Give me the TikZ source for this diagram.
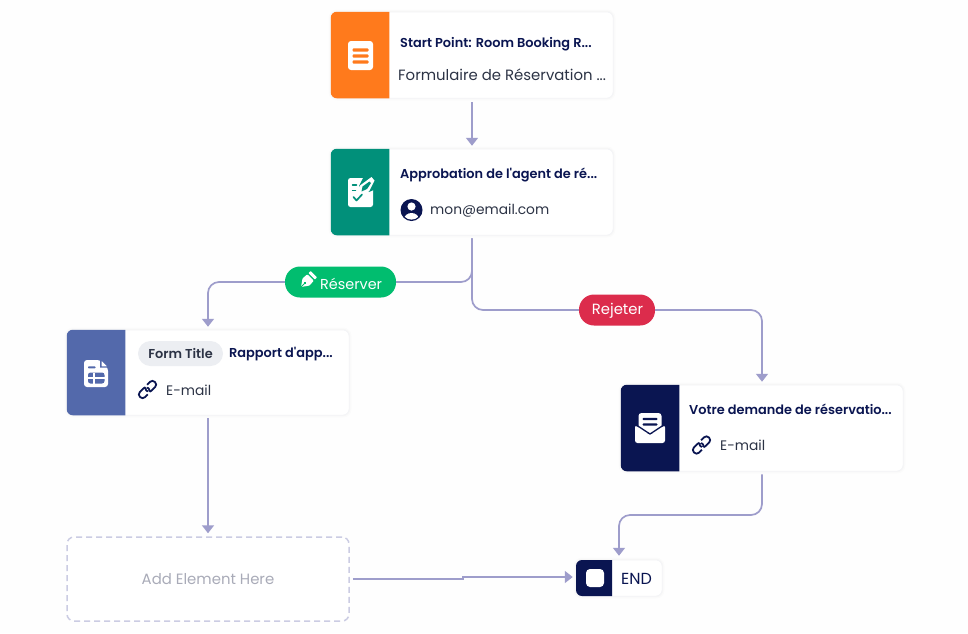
\documentclass[tikz,border=0pt]{standalone}
\usepackage{fontspec}
\defaultfontfeatures[\rmfamily]{}
\setmainfont[BoldFont={Poppins SemiBold}]{Poppins}
\usetikzlibrary{arrows.meta,calc}
\definecolor{cOrange}{HTML}{FF7A1C}
\definecolor{cTeal}{HTML}{01907A}
\definecolor{cBlue}{HTML}{5369AB}
\definecolor{cNavy}{HTML}{0A1551}
\definecolor{cPillG}{HTML}{01BD6F}
\definecolor{cPillR}{HTML}{DC2C4C}
\definecolor{cConn}{HTML}{9E9DCB}
\definecolor{cDash}{HTML}{CBCCE3}
\definecolor{cText}{HTML}{2C3345}
\definecolor{cGrey}{HTML}{A9ABB8}
\definecolor{cEdge}{HTML}{F1F2F6}
\definecolor{cTag}{HTML}{ECEEF2}
\definecolor{cPage}{HTML}{FEFEFE}
\tikzset{
  softcard/.style={rectangle,rounded corners=6pt,fill=white,draw=cEdge,line width=.5pt,inner sep=0pt,
    preaction={draw=black,draw opacity=.012,line width=5pt},
    preaction={draw=black,draw opacity=.016,line width=2.5pt}},
  wide/.style={softcard,minimum width=282pt,minimum height=86pt},
  conn/.style={draw=cConn,line width=1.7pt,rounded corners=11pt},
  tip/.style={-{Triangle[width=12pt,length=8pt]}},
  title/.style={anchor=west,inner sep=0pt,font=\bfseries\fontsize{12.9}{14}\selectfont,text=cNavy},
  body/.style={anchor=west,inner sep=0pt,font=\fontsize{13.8}{18}\selectfont,text=cText},
  pill/.style={rectangle,rounded corners=15pt,minimum height=31pt,inner sep=0pt,text=white},
  linkring/.style={draw=cNavy,line width=1.8pt,rounded corners=3.2pt}
}
\newcommand{\iconpanel}[2]{% node name, colour
  \fill[#2,rounded corners=6pt] ($(#1.north west)+(58.5pt,0)$) [sharp corners] -- ($(#1.north west)+(58.5pt,0)$) [rounded corners=6pt] -- (#1.north west) -- (#1.south west) [sharp corners] -- ($(#1.south west)+(58.5pt,0)$) -- cycle;
}
\newcommand{\linkicon}[2]{% x y
  \begin{scope}[shift={(#1,#2)},rotate=45]
    \draw[linkring] (-10.5pt,-3.6pt) rectangle (1.5pt,3.6pt);
    \draw[linkring] (-1.5pt,-3.6pt) rectangle (10.5pt,3.6pt);
    \fill[white] (-3pt,-5.4pt) rectangle (-.4pt,-2pt);
    \fill[white] (.4pt,2pt) rectangle (3pt,5.4pt);
  \end{scope}
}
\begin{document}
\begin{tikzpicture}[x=1pt,y=-1pt]
\useasboundingbox (0,0) rectangle (968,633);
\fill[cPage] (0,0) rectangle (968,633);

% cards
\node[wide] (start) at (472,55) {};
\node[wide] (appr)  at (472,192) {};
\node[wide,minimum height=85pt] (form) at (208,372.5) {};
\node[wide] (mail)  at (762,428) {};
\node[softcard,minimum width=86pt,minimum height=36pt] (endn) at (619,578) {};
\node[rectangle,rounded corners=7pt,draw=cDash,line width=1.5pt,dash pattern=on 6pt off 4pt,fill=white,
      minimum width=282pt,minimum height=84pt,text=cGrey,font=\fontsize{14.9}{18}\selectfont] (add) at (208,579) {Add Element Here};

\iconpanel{start}{cOrange}
\iconpanel{appr}{cTeal}
\iconpanel{form}{cBlue}
\iconpanel{mail}{cNavy}
\fill[cNavy,rounded corners=6pt] (612,560) [sharp corners] -- (612,560) [rounded corners=6pt] -- (576,560) -- (576,596) [sharp corners] -- (612,596) -- cycle;

% pills
\node[pill,fill=cPillG,minimum width=111pt] (res) at (340.5,282) {};
\node[pill,fill=cPillR,minimum width=76pt] (rej) at (617,310) {};
\node[inner sep=0pt,text=white,font=\fontsize{14.8}{18}\selectfont] (rejtext) at (617.5,311) {Rejeter};
\node[anchor=west,inner sep=0pt,text=white,font=\fontsize{14.4}{18}\selectfont] (restext) at (320,283.5) {Réserver};

% connectors
\coordinate (bendend) at (619,515);
\coordinate (kinkA) at (463,579);
\coordinate (kinkB) at (463,577);
\draw[conn,tip] ([yshift=-4pt]start.south) -- ([yshift=3pt]appr.north);
\draw[conn] ([yshift=-3pt]appr.south) |- (res.east);
\draw[conn,tip] (res.west) -| ([yshift=3pt]form.north);
\draw[conn] ([yshift=-3pt]appr.south) |- (rej.west);
\draw[conn,tip] (rej.east) -| ([yshift=3pt]mail.north);
\draw[conn,tip] ([yshift=-3pt]form.south) -- ([yshift=3pt]add.north);
\draw[conn,tip] ([yshift=-3pt]mail.south) |- (bendend) -- ([yshift=4pt]endn.north);
\draw[conn,rounded corners=0pt,tip] ([xshift=3pt]add.east) -- (kinkA) -- (kinkB) -- ([xshift=-3pt,yshift=1pt]endn.west);

% texts
\node[title] (t1) at (400,44) {Start Point: Room Booking R...};
\node[body,font=\fontsize{14.9}{18}\selectfont] (b1) at (398,74.5) {Formulaire de Réservation ...};
\node[title] (t2) at (400,175) {Approbation de l'agent de ré...};
\node[body] (b2) at (430,211) {mon@email.com};
\node[rectangle,rounded corners=12.5pt,fill=cTag,minimum width=85pt,minimum height=25pt,inner sep=0pt,
      text=cText,font=\bfseries\fontsize{12.9}{14}\selectfont] (tag) at (180.5,353.5) {Form Title};
\node[title] (t3) at (229,354.5) {Rapport d'app...};
\node[body] (b3) at (166,390.5) {E-mail};
\node[title] (t4) at (689,409.5) {Votre demande de réservatio...};
\node[body] (b4) at (720,445.5) {E-mail};
\node[anchor=west,inner sep=0pt,text=cNavy,font=\fontsize{16}{18}\selectfont] (endt) at (621,578.5) {END};

% icon: start (form)
\fill[white,rounded corners=3pt] (348,41) rectangle (373,70);
\foreach \yy in {50,56,62}{\fill[cOrange,rounded corners=1pt] (352.5,\yy-1.7) rectangle (368.5,\yy+1.7);}

% icon: approval
\fill[white,rounded corners=2.5pt] (348,178) rectangle (373,207);
\fill[cTeal] (364,176) -- (376,176) -- (376,189) -- (369,192) -- (359,186) -- cycle;
\fill[white] (371.5,177) -- (374.5,180.5) -- (369,191.5) -- (358.5,194.5) -- (360,185.5) -- cycle;
\fill[cTeal] (369.5,181.5) -- (371,183) -- (367,189) -- (361.5,191.5) -- (362.5,186.5) -- cycle;
\draw[cTeal,line width=1.7pt,line cap=round,line join=round] (353.5,197) -- (356.5,200.5) -- (362,194.5);
\draw[cTeal,line width=1.5pt,line cap=round] (352.5,185) -- (356.5,185);
\draw[cTeal,line width=1.5pt,line cap=round] (352.5,190.5) -- (355.5,190.5);

% icon: person
\fill[cNavy] (411.5,210) circle (11pt);
\fill[white] (411.5,206.5) circle (4.1pt);
\begin{scope}
  \clip (411.5,210) circle (9.6pt);
  \fill[white] (411.5,219.5) ellipse (7.5pt and 6.5pt);
\end{scope}

% icon: form table
\fill[white,rounded corners=3pt] (84,360) -- (100,360) -- (108,368) -- (108,387) -- (84,387) -- cycle;
\fill[cBlue] (100,360) -- (100,367.5) -- (108,367.5) -- (108,365) -- (102.5,360) -- cycle;
\fill[white,rounded corners=.5pt] (101.5,361) -- (107,366.3) -- (101.5,366.3) -- cycle;
\fill[cBlue,rounded corners=.8pt] (88,366.3) rectangle (95.5,368.3);
\fill[cBlue,rounded corners=2.5pt] (88,372.5) rectangle (104.5,383.5);
\draw[white,line width=1.1pt] (88,378) -- (104.5,378) (94,372.5) -- (94,383.5);

% icon: mail
\fill[white,rounded corners=3pt] (638.5,413) rectangle (661.5,433);
\fill[white,rounded corners=2.5pt] (635,425) -- (650,435) -- (665,425) -- (665,443) -- (635,443) -- cycle;
\draw[cNavy,line width=1.3pt,line join=round] (634,423.5) -- (650,434) -- (666,423.5);
\foreach \yy in {419,424.5}{\fill[cNavy,rounded corners=1pt] (642.5,\yy-1.2) rectangle (657.5,\yy+1.2);}

% icon: link
\linkicon{147.5}{389.5}
\linkicon{701.5}{445}

% icon: nib in pill
\begin{scope}[shift={(306,282)},rotate=-45]
  \fill[white,rounded corners=.8pt] (-4.5,-6.5) -- (4.5,-6.5) -- (5,0) -- (0,7) -- (-5,0) -- cycle;
  \fill[cPillG] (0,1.5) circle (1.3pt);
  \draw[cPillG,line width=.8pt] (0,1.5) -- (0,7);
  \fill[white,rounded corners=.5pt] (-4.5,-11) rectangle (4.5,-8);
\end{scope}

% icon: end stop
\fill[white,rounded corners=4pt] (586,569) rectangle (604,587);
\end{tikzpicture}
\end{document}
